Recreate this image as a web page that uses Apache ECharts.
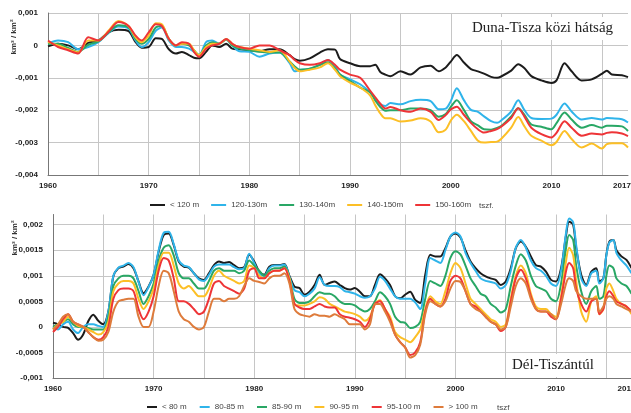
<!DOCTYPE html>
<html><head><meta charset="utf-8">
<script src="https://cdn.jsdelivr.net/npm/echarts@6/dist/echarts.min.js"></script>
<style>html,body{margin:0;padding:0;background:#fff}#c{width:631px;height:413px}</style>
</head><body><div id="c"></div>
<script>
// values in units of 0.001 km³/km²
const topYears = [
1960,1961,1962,1963,1964,1965,1966,1967,1968,1968.7,
1969.3,1970,1970.7,1971.3,1972,1972.7,1973.3,1974,1974.5,1975,
1975.7,1976.3,1977,1977.7,1978.3,1979,1980,1981,1982,1983,
1984,1984.5,1985,1986,1987,1987.8,1988.5,1989,1990,1991,
1992,1992.5,1993,1993.5,1994,1995,1996,1997,1998,1998.8,
1999.5,2000,2000.6,2001.3,2002,2002.7,2003.3,2004,2004.6,2005,
2006,2006.7,2007.3,2008,2009,2010,2010.5,2011.3,2012,2013,
2014,2015,2015.5,2016,2017,2017.6];
const topLt120 = [
-0.03,0.05,0.0,-0.12,0.08,0.15,0.4,0.48,0.44,0.1,
-0.07,-0.05,0.22,0.2,-0.12,-0.25,-0.2,-0.3,-0.38,-0.4,
-0.2,0.0,-0.05,0.05,-0.1,-0.12,-0.15,-0.18,-0.12,-0.12,
-0.3,-0.42,-0.47,-0.4,-0.22,-0.12,-0.13,-0.42,-0.55,-0.64,
-0.64,-0.6,-0.82,-0.9,-0.95,-0.8,-0.9,-0.68,-0.63,-0.8,
-0.68,-0.5,-0.3,-0.53,-0.73,-0.8,-0.87,-0.97,-1.0,-0.96,
-0.78,-0.58,-0.7,-0.95,-1.08,-1.16,-1.08,-0.55,-0.8,-1.08,
-1.05,-0.88,-0.78,-0.9,-0.92,-0.98];
const top120_130 = [
0.05,0.15,0.1,-0.12,-0.05,0.1,0.38,0.58,0.52,0.15,
-0.05,0.1,0.45,0.55,0.15,-0.05,-0.05,-0.1,-0.2,-0.3,
0.1,0.15,0.05,0.2,0.0,-0.18,-0.2,-0.35,-0.25,-0.22,
-0.55,-0.8,-0.76,-0.72,-0.6,-0.45,-0.64,-0.9,-1.05,-1.2,
-1.45,-1.66,-1.82,-1.87,-1.78,-1.82,-1.72,-1.68,-1.72,-1.97,
-1.95,-1.72,-1.32,-1.69,-1.99,-2.05,-2.19,-2.34,-2.39,-2.32,
-2.04,-1.69,-1.99,-2.24,-2.27,-2.26,-2.14,-1.79,-2.04,-2.29,
-2.24,-2.29,-2.24,-2.25,-2.28,-2.38];
const top130_140 = [
0.05,0.05,-0.08,-0.2,0.02,0.12,0.4,0.62,0.55,0.2,
0.05,0.2,0.55,0.6,0.2,0.0,0.05,0.0,-0.15,-0.3,
0.0,0.1,0.05,0.18,0.0,-0.1,-0.15,-0.2,-0.22,-0.22,
-0.5,-0.65,-0.75,-0.72,-0.6,-0.52,-0.7,-0.9,-1.1,-1.3,
-1.45,-1.7,-1.9,-2.02,-2.0,-2.0,-1.95,-1.95,-2.0,-2.2,
-2.12,-1.9,-1.69,-1.99,-2.34,-2.47,-2.59,-2.6,-2.55,-2.49,
-2.19,-1.94,-2.14,-2.44,-2.51,-2.59,-2.4,-2.07,-2.29,-2.54,
-2.46,-2.54,-2.48,-2.48,-2.5,-2.64];
const top140_150 = [
0.1,0.0,-0.12,-0.22,0.15,0.15,0.45,0.75,0.6,0.25,
0.1,0.3,0.68,0.65,0.2,0.0,0.05,0.05,-0.15,-0.3,
-0.05,0.05,0.05,0.2,0.05,-0.05,-0.1,-0.15,-0.2,-0.15,
-0.5,-0.7,-0.8,-0.75,-0.68,-0.55,-0.75,-0.95,-1.15,-1.3,
-1.55,-1.85,-2.1,-2.25,-2.25,-2.35,-2.32,-2.25,-2.35,-2.68,
-2.6,-2.32,-2.14,-2.34,-2.64,-2.94,-3.0,-2.98,-2.97,-2.89,
-2.54,-2.21,-2.49,-2.79,-2.94,-3.08,-2.98,-2.64,-2.89,-3.15,
-3.03,-3.18,-3.05,-3.02,-3.02,-3.15];
const top150_160 = [
0.15,-0.05,-0.15,-0.25,0.25,0.15,0.42,0.72,0.6,0.3,
0.15,0.4,0.65,0.6,0.2,0.0,0.1,0.05,-0.2,-0.35,
-0.1,0.0,0.05,0.2,0.05,-0.05,-0.1,0.0,0.0,-0.15,
-0.3,-0.45,-0.55,-0.6,-0.55,-0.45,-0.6,-0.75,-0.9,-1.0,
-1.4,-1.6,-1.8,-1.95,-1.9,-2.0,-2.05,-1.95,-2.05,-2.3,
-2.15,-1.98,-1.89,-2.14,-2.39,-2.59,-2.69,-2.64,-2.58,-2.51,
-2.24,-1.94,-2.19,-2.54,-2.74,-2.84,-2.7,-2.34,-2.54,-2.79,
-2.72,-2.75,-2.7,-2.68,-2.72,-2.8];

const botYears = [
1960,1960.5,1961,1961.5,1962,1962.5,1963,1963.5,1964,1964.5,
1965,1965.5,1966,1966.5,1967,1967.5,1968,1968.5,1969,1969.5,
1970,1970.5,1971,1971.5,1972,1972.5,1973,1973.5,1974,1974.5,
1975,1975.5,1976,1976.5,1977,1977.5,1978,1978.5,1979,1979.5,
1980,1980.5,1981,1981.5,1982,1982.5,1983,1983.5,1984,1984.5,
1985,1985.5,1986,1986.5,1987,1987.5,1988,1988.5,1989,1989.5,
1990,1990.5,1991,1991.5,1992,1992.5,1993,1993.5,1994,1994.5,
1995,1995.5,1996,1996.5,1997,1997.5,1998,1998.5,1999,1999.5,
2000,2000.5,2001,2001.5,2002,2002.5,2003,2003.5,2004,2004.5,
2005,2005.5,2006,2006.5,2007,2007.5,2008,2008.5,2009,2009.5,
2010,2010.5,2011,2011.3,2011.7,2012,2012.5,2013,2013.5,2014,
2014.3,2014.7,2015,2015.3,2015.7,2016,2016.5,2017,2017.5];
const botLt80 = [
0.08,0.05,0.0,-0.02,-0.12,-0.25,-0.15,0.11,0.24,0.12,
0.05,0.3,0.99,1.15,1.18,1.23,1.15,0.89,0.66,0.79,
1.02,1.47,1.8,1.83,1.6,1.28,1.18,1.16,1.05,0.95,
0.92,1.05,1.21,1.28,1.25,1.27,1.21,1.15,1.17,1.41,
1.28,1.08,1.02,1.18,1.21,1.21,1.23,1.0,0.79,0.76,
0.63,0.69,0.82,1.02,0.82,0.86,0.89,0.82,0.76,0.73,
0.76,0.69,0.6,0.6,0.82,1.03,0.95,0.82,0.6,0.56,
0.63,0.69,0.53,0.47,1.02,1.41,1.38,1.38,1.54,1.77,
1.83,1.75,1.5,1.28,1.15,1.05,0.99,0.95,0.92,0.82,
0.89,1.15,1.54,1.67,1.57,1.38,1.21,1.18,1.08,0.92,
0.89,1.15,1.8,2.06,2.0,1.54,1.02,0.82,1.08,1.15,
0.89,0.95,1.41,1.67,1.7,1.5,1.38,1.31,1.15];
const bot80_85 = [
0.0,-0.05,0.05,0.1,-0.05,-0.12,0.0,0.05,0.05,0.02,
0.0,0.3,1.0,1.16,1.2,1.25,1.17,0.88,0.62,0.78,
1.02,1.5,1.84,1.86,1.62,1.3,1.2,1.17,1.05,0.93,
0.9,1.02,1.18,1.22,1.22,1.22,1.17,1.13,1.15,1.43,
1.25,1.05,1.0,1.15,1.2,1.2,1.22,0.98,0.72,0.68,
0.6,0.65,0.75,0.97,0.82,0.8,0.8,0.78,0.7,0.68,
0.65,0.6,0.57,0.6,0.75,0.98,0.9,0.75,0.6,0.55,
0.55,0.55,0.48,0.35,0.85,1.35,1.3,1.25,1.5,1.77,
1.85,1.77,1.45,1.25,1.1,0.95,0.9,0.88,0.85,0.75,
0.82,1.1,1.55,1.7,1.55,1.3,1.15,1.1,1.0,0.85,
0.8,1.1,1.85,2.12,2.05,1.6,0.95,0.8,1.05,1.1,
0.85,0.95,1.4,1.65,1.7,1.45,1.3,1.2,1.05];
const bot85_90 = [
0.0,0.05,0.1,0.15,0.05,0.0,0.0,-0.02,-0.05,-0.05,
-0.05,0.2,0.8,0.95,1.0,1.0,0.95,0.7,0.45,0.6,
0.85,1.3,1.55,1.6,1.4,1.05,0.95,0.95,0.85,0.75,
0.75,0.9,1.1,1.15,1.1,1.1,1.1,1.05,1.1,1.3,
1.2,1.1,1.0,1.1,1.15,1.15,1.18,0.95,0.55,0.47,
0.47,0.5,0.6,0.68,0.65,0.65,0.6,0.5,0.45,0.45,
0.42,0.35,0.3,0.35,0.5,0.68,0.6,0.45,0.2,0.1,
0.08,-0.02,0.0,0.1,0.55,0.9,0.85,0.8,1.0,1.35,
1.48,1.42,1.2,0.95,0.8,0.65,0.6,0.45,0.38,0.28,
0.35,0.8,1.2,1.42,1.3,1.0,0.8,0.75,0.7,0.55,
0.5,0.85,1.55,1.8,1.7,1.2,0.7,0.45,0.7,0.8,
0.55,0.6,1.0,1.2,1.15,0.95,0.85,0.8,0.65];
const bot90_95 = [
-0.05,0.05,0.1,0.2,0.1,0.02,0.0,-0.05,-0.1,-0.15,
-0.1,0.1,0.7,0.85,0.9,0.9,0.85,0.55,0.35,0.5,
0.75,1.2,1.45,1.45,1.2,0.85,0.75,0.8,0.7,0.6,
0.6,0.75,1.0,1.1,1.0,0.95,0.9,0.85,0.9,1.2,
1.15,1.0,0.95,1.05,1.1,1.1,1.15,0.95,0.45,0.42,
0.42,0.45,0.5,0.58,0.55,0.45,0.4,0.35,0.3,0.28,
0.25,0.2,0.12,0.2,0.45,0.52,0.35,0.2,-0.1,-0.2,
-0.25,-0.3,-0.2,-0.05,0.35,0.6,0.5,0.45,0.7,1.05,
1.25,1.15,0.85,0.55,0.45,0.35,0.25,0.15,0.1,0.0,
0.05,0.55,1.0,1.2,1.05,0.65,0.4,0.35,0.35,0.25,
0.2,0.6,1.3,1.55,1.4,0.9,0.3,0.1,0.5,0.6,
0.25,0.35,0.75,0.85,0.7,0.55,0.45,0.4,0.25];
const bot95_100 = [
-0.1,0.0,0.15,0.25,0.1,0.05,0.0,-0.1,-0.2,-0.25,
-0.2,0.0,0.55,0.72,0.75,0.75,0.7,0.35,0.15,0.3,
0.6,1.1,1.35,1.3,0.95,0.5,0.5,0.45,0.35,0.25,
0.3,0.55,0.85,0.9,0.8,0.75,0.7,0.65,0.75,1.1,
1.15,0.95,0.95,1.05,1.1,1.1,1.15,0.9,0.45,0.38,
0.35,0.35,0.4,0.45,0.4,0.38,0.38,0.25,0.2,0.18,
0.15,0.1,0.0,0.15,0.45,0.5,0.35,0.15,-0.15,-0.3,
-0.4,-0.55,-0.5,-0.3,0.3,0.55,0.45,0.4,0.55,0.9,
1.0,0.95,0.7,0.45,0.4,0.3,0.2,0.1,0.05,-0.08,
0.0,0.5,0.95,1.12,0.95,0.6,0.35,0.3,0.3,0.2,
0.15,0.55,1.1,1.25,1.15,0.75,0.45,0.3,0.5,0.55,
0.25,0.35,0.6,0.7,0.6,0.5,0.45,0.4,0.3];
const botGt100 = [
-0.05,0.05,0.2,0.25,0.1,0.05,0.0,-0.1,-0.2,-0.27,
-0.25,-0.1,0.3,0.5,0.53,0.55,0.55,0.2,0.0,0.0,
0.3,0.8,1.1,1.05,0.7,0.3,0.15,0.1,0.0,-0.05,
0.0,0.3,0.55,0.55,0.5,0.55,0.55,0.6,0.8,0.95,
0.9,0.88,0.85,0.95,1.0,1.0,1.05,0.85,0.35,0.25,
0.22,0.2,0.25,0.22,0.22,0.2,0.25,0.2,0.15,0.05,
0.05,0.05,-0.05,0.05,0.45,0.45,0.3,0.1,-0.15,-0.3,
-0.4,-0.6,-0.55,-0.35,0.25,0.5,0.45,0.4,0.5,0.75,
0.9,0.88,0.7,0.45,0.35,0.3,0.2,0.1,0.05,-0.05,
0.0,0.4,0.8,0.95,0.85,0.55,0.35,0.3,0.3,0.25,
0.15,0.45,0.85,0.95,0.9,0.7,0.6,0.55,0.55,0.55,
0.3,0.4,0.55,0.6,0.55,0.45,0.4,0.35,0.3];

const topNames = ['< 120 m','120-130m','130-140m','140-150m','150-160m'];
const botNames = ['< 80 m','80-85 m','85-90 m','90-95 m','95-100 m','> 100 m'];
const xTickLabels = ['1960','1970','1980','1990','2000','2010','2017'];
const titles = ['Duna-Tisza közi hátság','Dél-Tiszántúl'];
const unitLabel = 'km³ / km²';

const C = {black:'#1c1c1c', blue:'#2fb4ea', green:'#29a765', yellow:'#fcbf26', red:'#ee3437', orange:'#de7b3b'};
const FONT = '"Liberation Sans", Arial, sans-serif';

function mk(name, color, xs, ys, xi, yi){
  return {name:name, type:'line', xAxisIndex:xi, yAxisIndex:yi, symbol:'none', smooth:0.3,
    data: xs.map((x,i)=>[x, ys[i]]),
    lineStyle:{color:color, width:2}, itemStyle:{color:color}, emphasis:{disabled:true}};
}
const yFmt = v => (v/1000).toString().replace('.', ',');
function xMain(grid, max){
  return {type:'value', gridIndex:grid, min:1960, max:max, interval:5,
    axisLine:{onZero:false, lineStyle:{color:'#777', width:1}}, axisTick:{show:false},
    splitLine:{show:true, showMaxLine:false, lineStyle:{color:'#c6c6c6', width:1}},
    axisLabel:{margin:7, fontSize:8, fontWeight:'bold', color:'#222', fontFamily:FONT,
      formatter: v => (v%10===0 && xTickLabels.indexOf(String(v))>=0) ? String(v) : ''}};
}
function xExtra(grid, max){
  return {type:'value', gridIndex:grid, position:'bottom', min:1960, max:max, interval:57,
    axisLine:{show:false}, axisTick:{show:false}, splitLine:{show:false},
    axisLabel:{margin:7, fontSize:8, fontWeight:'bold', color:'#222', fontFamily:FONT,
      formatter: v => v===2017 ? xTickLabels[6] : ''}};
}
function yAx(grid, min, max, interval){
  return {type:'value', gridIndex:grid, min:min, max:max, interval:interval,
    axisLine:{show:true, lineStyle:{color:'#777', width:1}}, axisTick:{show:false},
    splitLine:{show:true, showMaxLine: grid===0, lineStyle:{color:'#c6c6c6', width:1}},
    axisLabel:{margin:10, fontSize:8, fontWeight:'bold', color:'#222', fontFamily:FONT,
      showMaxLabel: grid===0, formatter:yFmt}};
}

const chart = echarts.init(document.getElementById('c'), null, {renderer:'canvas'});
chart.setOption({
  animation:false,
  backgroundColor:'#fff',
  grid:[
    {left:48, top:13, width:580, height:162, containLabel:false, outerBoundsMode:'none'},
    {left:53, top:214.5, right:0, height:163.5, containLabel:false, outerBoundsMode:'none'}
  ],
  xAxis:[xMain(0, 2017.6), xExtra(0, 2017.6), xMain(1, 2017.45), xExtra(1, 2017.45)],
  yAxis:[yAx(0,-4,1,1), yAx(1,-1,2.2,0.5)],
  title:[
    {text:titles[0], left:468, top:17, padding:[4,4], backgroundColor:'#fff',
      textStyle:{fontFamily:'"Liberation Serif", "Times New Roman", serif', fontSize:15, fontWeight:'normal', color:'#222'}},
    {text:titles[1], left:508, top:354, padding:[4,4], backgroundColor:'#fff',
      textStyle:{fontFamily:'"Liberation Serif", "Times New Roman", serif', fontSize:15, fontWeight:'normal', color:'#222'}}
  ],
  legend:[
    {data:topNames, left:150, top:201, padding:0, itemGap:12, itemWidth:15, itemHeight:2, icon:'rect', selectedMode:false,
      textStyle:{fontSize:8, color:'#444', fontFamily:FONT}},
    {data:botNames, left:147, top:403, padding:0, itemGap:13, itemWidth:10, itemHeight:2, icon:'rect', selectedMode:false,
      textStyle:{fontSize:8, color:'#444', fontFamily:FONT}}
  ],
  graphic:[
    {type:'text', x:14, y:37, rotation:Math.PI/2, style:{text:unitLabel, font:'bold 8px '+FONT, fill:'#333', textAlign:'center', textVerticalAlign:'middle'}},
    {type:'text', x:15, y:238, rotation:Math.PI/2, style:{text:unitLabel, font:'bold 8px '+FONT, fill:'#333', textAlign:'center', textVerticalAlign:'middle'}},
    {type:'text', x:479, y:206, style:{text:'tszf.', font:'8px '+FONT, fill:'#444', textAlign:'left', textVerticalAlign:'middle'}},
    {type:'text', x:497, y:408, style:{text:'tszf', font:'8px '+FONT, fill:'#444', textAlign:'left', textVerticalAlign:'middle'}}
  ],
  series:[
    mk(topNames[0], C.black, topYears, topLt120, 0, 0),
    mk(topNames[1], C.blue, topYears, top120_130, 0, 0),
    mk(topNames[2], C.green, topYears, top130_140, 0, 0),
    mk(topNames[3], C.yellow, topYears, top140_150, 0, 0),
    mk(topNames[4], C.red, topYears, top150_160, 0, 0),
    mk(botNames[0], C.black, botYears, botLt80, 2, 1),
    mk(botNames[1], C.blue, botYears, bot80_85, 2, 1),
    mk(botNames[2], C.green, botYears, bot85_90, 2, 1),
    mk(botNames[3], C.yellow, botYears, bot90_95, 2, 1),
    mk(botNames[4], C.red, botYears, bot95_100, 2, 1),
    mk(botNames[5], C.orange, botYears, botGt100, 2, 1)
  ]
});
</script></body></html>
